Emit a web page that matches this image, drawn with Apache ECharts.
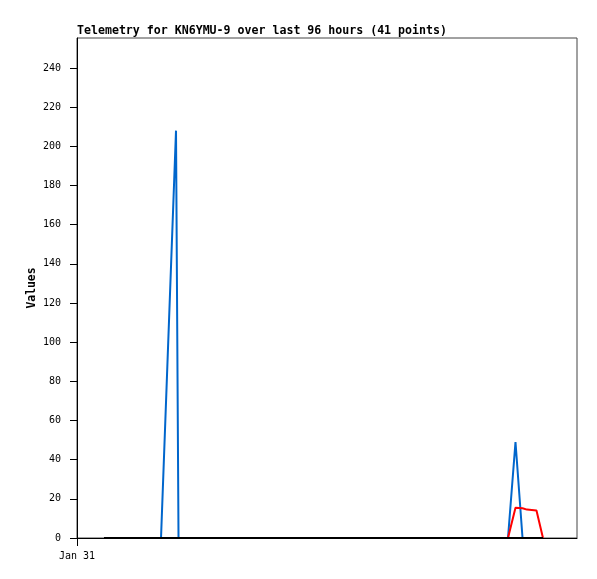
<!DOCTYPE html>
<html>
<head>
<meta charset="utf-8">
<script src="https://cdn.jsdelivr.net/npm/echarts@6/dist/echarts.min.js"></script>
<style>html,body{margin:0;padding:0;background:#fff}#c{width:597px;height:579px}</style>
</head>
<body>
<div id="c"></div>
<script>
// Hours since Jan 31 00:00
const hours = [5.18, 16.13, 19.01, 19.49, 42.8, 82.75, 84.19, 85.54, 86.4, 88.22, 89.47];
const blueValues = [0, 0, 208, 0, 0, 0, 49, 0, 0, 0, 0];
const redValues = [0, 0, 0, 0, 0, 0, 15.5, 15.2, 14.5, 14, 0];
const blackValues = [0, 0, 0, 0, 0, 0, 0, 0, 0, 0, 0];
const yTicks = [0, 20, 40, 60, 80, 100, 120, 140, 160, 180, 200, 220, 240];
const xTicks = [0];
const xTickLabels = ['Jan 31'];

const pair = (vals) => hours.map((h, i) => [h, vals[i]]);
const chart = echarts.init(document.getElementById('c'));
const mono = 'DejaVu Sans Mono';
chart.setOption({
  animation: false,
  backgroundColor: '#fff',
  title: {
    text: 'Telemetry for KN6YMU-9 over last 96 hours (41 points)',
    left: 77, top: 25, padding: 0,
    textStyle: {fontFamily: mono, fontWeight: 'bold', fontSize: 11.6, color: '#000'}
  },
  grid: {left: 77, top: 38, width: 500, height: 500, show: true, borderColor: '#444', borderWidth: 1, backgroundColor: 'transparent'},
  xAxis: {
    type: 'value', min: 0, max: 96,
    axisLine: {show: true, lineStyle: {color: '#000', width: 1}},
    axisTick: {show: true, customValues: xTicks, length: 8, lineStyle: {color: '#000'}},
    axisLabel: {customValues: xTicks, formatter: (v) => xTickLabels[xTicks.indexOf(v)] || '', margin: 13, fontFamily: mono, fontSize: 10, color: '#000'},
    splitLine: {show: false}
  },
  yAxis: {
    type: 'value', min: 0, max: 255.3,
    name: 'Values', nameLocation: 'middle', nameGap: 39, nameRotate: 90, nameMoveOverlap: false,
    nameTextStyle: {fontFamily: mono, fontWeight: 'bold', fontSize: 11.4, color: '#000'},
    axisLine: {show: true, lineStyle: {color: '#000', width: 1}},
    axisTick: {show: true, customValues: yTicks, length: 7, lineStyle: {color: '#000'}},
    axisLabel: {customValues: yTicks, margin: 16, fontFamily: mono, fontSize: 10, color: '#000'},
    splitLine: {show: false}
  },
  series: [
    {type: 'line', data: pair(blueValues), symbol: 'none', lineStyle: {color: '#0066cc', width: 2}, z: 2},
    {type: 'line', data: pair(redValues), symbol: 'none', lineStyle: {color: '#ff0000', width: 2}, z: 3},
    {type: 'line', data: pair(blackValues), symbol: 'none', lineStyle: {color: '#000000', width: 2}, z: 4}
  ]
});
</script>
</body>
</html>
